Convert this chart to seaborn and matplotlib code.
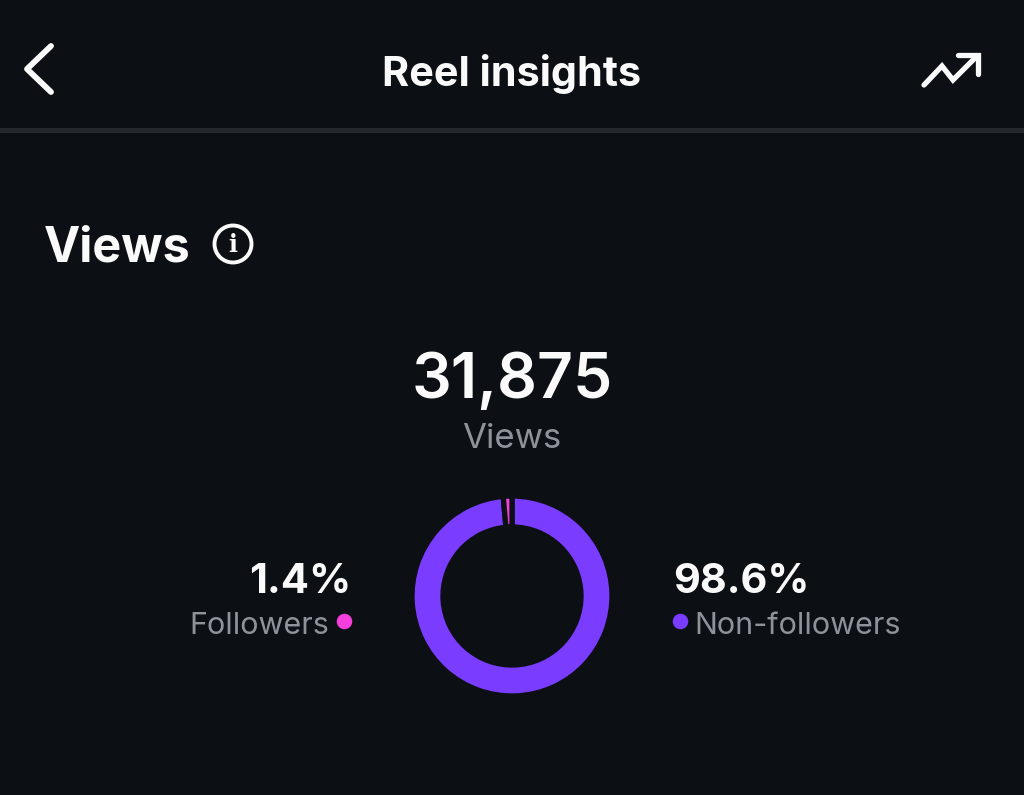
import matplotlib
matplotlib.use('Agg')
import matplotlib.pyplot as plt
import seaborn as sns

# values
segments = ['Non-followers', 'Followers']
shares = [98.6, 1.4]
total_views = 31875
metric_label = 'Views'
page_title = 'Reel insights'

bg = '#0c0f14'
white = '#fafafa'
grey = '#8f9399'
purple = '#7a3cff'
pink = '#f53fdc'
divider = '#25282d'

sns.set_theme(style='dark', rc={'figure.facecolor': bg, 'axes.facecolor': bg})
plt.rcParams['font.family'] = ['Inter', 'DejaVu Sans']

W, H = 1024, 795
fig = plt.figure(figsize=(W / 100, H / 100), dpi=100)

# full-figure axes in pixel coordinates for the app chrome
ax = fig.add_axes([0, 0, 1, 1])
ax.set_xlim(0, W)
ax.set_ylim(H, 0)
ax.axis('off')

ax.axhline(130, color=divider, lw=3.6)

# header icons
ax.plot([51, 27, 51], [46, 69, 92], color=white, lw=4.2, solid_capstyle='round', solid_joinstyle='round')
ax.plot([924, 942, 953, 977], [85, 66, 80, 56], color=white, lw=3.8, solid_capstyle='round', solid_joinstyle='miter')
ax.plot([958, 978, 978], [55, 55, 74], color=white, lw=3.8, solid_capstyle='round', solid_joinstyle='miter')

ax.text(512, 74, page_title, color=white, fontsize=29.8, fontweight='bold', ha='center', va='center')
ax.text(44, 248, metric_label, color=white, fontsize=35, fontweight='bold', ha='left', va='center')

# info icon
ax.add_patch(plt.Circle((233, 244), 18.5, fill=False, ec=white, lw=2.8))
ax.text(233, 245, 'i', color=white, fontsize=17, fontweight='bold', family='DejaVu Serif', ha='center', va='center')

ax.text(512, 381, f'{total_views:,}', color=white, fontsize=45, fontweight='semibold', ha='center', va='center')
ax.text(512, 439, metric_label, color=grey, fontsize=25, ha='center', va='center')

# side labels
ax.text(351, 582, f'{shares[1]}%', color=white, fontsize=30, fontweight='bold', ha='right', va='center')
ax.text(329, 626, segments[1], color=grey, fontsize=22, ha='right', va='center')
ax.scatter([344], [621], s=125, color=pink, linewidths=0)

ax.text(673, 582, f'{shares[0]}%', color=white, fontsize=29.8, fontweight='bold', ha='left', va='center')
ax.text(694, 626, segments[0], color=grey, fontsize=22, ha='left', va='center')
ax.scatter([680], [621], s=125, color=purple, linewidths=0)

# donut
cx, cy, size = 512, 596, 220
donut = fig.add_axes([(cx - size / 2) / W, 1 - (cy + size / 2) / H, size / W, size / H])
donut.pie(shares, colors=[purple, pink], radius=1.0, startangle=90 + shares[1] * 3.6,
          wedgeprops={'width': 0.31, 'edgecolor': bg, 'linewidth': 3.8})
donut.set_xlim(-1.1, 1.1)
donut.set_ylim(-1.1, 1.1)
donut.set_aspect('equal')

fig.savefig('out.png', dpi=100, facecolor=bg)
